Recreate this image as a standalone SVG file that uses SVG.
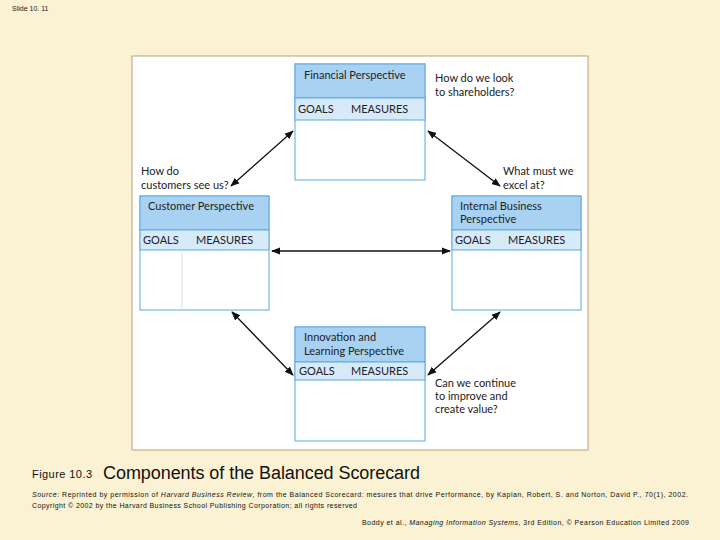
<svg xmlns="http://www.w3.org/2000/svg" width="720" height="540" viewBox="0 0 720 540">
<style>
.b{font-family:"Liberation Sans",Arial,sans-serif}
.t{font-family:"Lato","Open Sans",sans-serif;font-size:11px;fill:#222}
.h{fill:#a9d2f2;stroke:#5aa9dc;stroke-width:1}
.r{fill:#d7eafa;stroke:#5aa9dc;stroke-width:1}
.w{fill:#fff;stroke:#5aa9dc;stroke-width:1}
.c{stroke:#111;stroke-width:1.3;fill:none;marker-start:url(#a);marker-end:url(#a)}
</style>
<defs><marker id="a" viewBox="0 0 10 10" refX="9" refY="5" markerWidth="7" markerHeight="7" orient="auto-start-reverse"><path d="M0,1 L10,5 L0,9 z" fill="#111"/></marker></defs>
<rect width="720" height="540" fill="#fbf1d3"/>
<text x="12" y="11" class="b" font-size="7" fill="#222">Slide 10. 11</text>
<rect x="132" y="56" width="456" height="394" fill="#fff" stroke="#b6a27a"/>
<g id="connectors">
<line class="c" x1="231" y1="186" x2="293" y2="131"/>
<line class="c" x1="428" y1="131" x2="500" y2="186"/>
<line class="c" x1="272" y1="251" x2="450" y2="251"/>
<line class="c" x1="232" y1="312" x2="293" y2="375"/>
<line class="c" x1="428" y1="375" x2="500" y2="312"/>
</g>
<g id="financial">
<rect class="w" x="295" y="64" width="130" height="116"/>
<rect class="h" x="295" y="64" width="130" height="34"/>
<rect class="r" x="295" y="98" width="130" height="22"/>
<text class="t" x="304" y="79">Financial Perspective</text>
<text class="t" x="298" y="113">GOALS</text><text class="t" x="351" y="113">MEASURES</text>
<text class="t" x="435" y="82">How do we look</text><text class="t" x="435" y="96">to shareholders?</text>
</g>
<g id="customer">
<rect class="w" x="140" y="196" width="129" height="114"/>
<rect class="h" x="140" y="196" width="129" height="34"/>
<rect class="r" x="140" y="230" width="129" height="20"/>
<line x1="182" y1="250" x2="182" y2="310" stroke="#cfe4f4"/>
<text class="t" x="148" y="210">Customer Perspective</text>
<text class="t" x="143" y="244">GOALS</text><text class="t" x="196" y="244">MEASURES</text>
<text class="t" x="141" y="175">How do</text><text class="t" x="141" y="189">customers see us?</text>
</g>
<g id="internal">
<rect class="w" x="452" y="196" width="129" height="114"/>
<rect class="h" x="452" y="196" width="129" height="34"/>
<rect class="r" x="452" y="230" width="129" height="20"/>
<text class="t" x="460" y="210">Internal Business</text><text class="t" x="460" y="223">Perspective</text>
<text class="t" x="455" y="244">GOALS</text><text class="t" x="508" y="244">MEASURES</text>
<text class="t" x="503" y="175">What must we</text><text class="t" x="503" y="189">excel at?</text>
</g>
<g id="innovation">
<rect class="w" x="295" y="327" width="130" height="114"/>
<rect class="h" x="295" y="327" width="130" height="35"/>
<rect class="r" x="295" y="362" width="130" height="18"/>
<text class="t" x="304" y="341">Innovation and</text><text class="t" x="304" y="355">Learning Perspective</text>
<text class="t" x="299" y="375">GOALS</text><text class="t" x="351" y="375">MEASURES</text>
<text class="t" x="435" y="387">Can we continue</text><text class="t" x="435" y="400">to improve and</text><text class="t" x="435" y="413">create value?</text>
</g>
<text x="32" y="478" class="b" font-size="11" fill="#111" textLength="60">Figure 10.3</text>
<text x="103" y="479" class="b" font-size="18" fill="#111" textLength="317">Components of the Balanced Scorecard</text>
<text x="32" y="497" class="b" font-size="7" fill="#111" textLength="656"><tspan font-style="italic">Source</tspan>: Reprinted by permission of <tspan font-style="italic">Harvard Business Review</tspan>, from the Balanced Scorecard: mesures that drive Performance, by Kaplan, Robert, S. and Norton, David P., 70(1), 2002.</text>
<text x="32" y="508" class="b" font-size="7" fill="#111" textLength="325">Copyright © 2002 by the Harvard Business School Publishing Corporation; all rights reserved</text>
<text x="362" y="525" class="b" font-size="7" fill="#111" textLength="327">Boddy et al., <tspan font-style="italic">Managing Information Systems</tspan>, 3rd Edition, © Pearson Education Limited 2009</text>
</svg>
